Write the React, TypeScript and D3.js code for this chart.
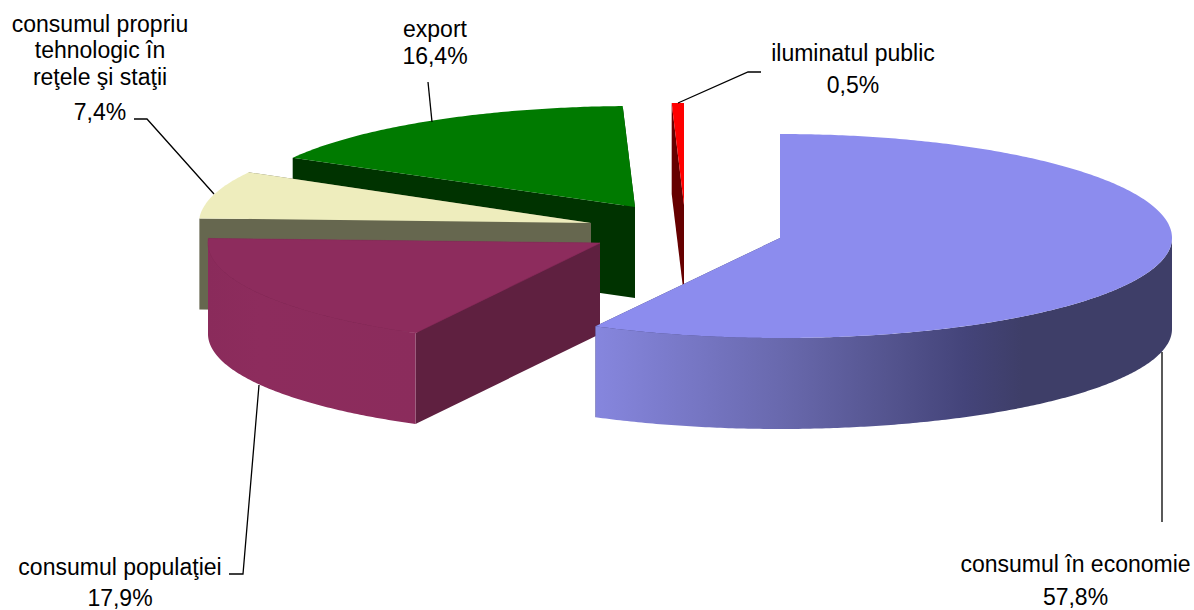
import React from "react";
import * as d3 from "d3";

const categories = ["consumul în economie", "consumul populaţiei", "consumul propriu tehnologic în reţele şi staţii", "export", "iluminatul public"];
const shares = [57.8, 17.9, 7.4, 16.4, 0.5];
const percentLabels = ["57,8%", "17,9%", "7,4%", "16,4%", "0,5%"];

const W = 1194, H = 610;
const RX = 392, DEPTH = 91;
const backRY = [104, 104, 104, 101, 102];
const frontRY = [100, 102, 100, 100, 100];
const apexes: [number, number][] = [[780, 238], [600, 243], [591, 223], [635, 207], [684, 205]];
const topFill = ["#8C8CEE", "#8D2C5D", "#EEEDBD", "#007A00", "#FF0000"];
const cutFill = ["#3E3E68", "#5F2040", "#66674F", "#003300", "#660000"];
const arcFill = ["url(#econWall)", "url(#popWall)", "#66674F", "#003300", "#660000"];
const paintOrder = [4, 3, 2, 1, 0];

type Pt = [number, number];
const pie = d3.pie<number>().sort(null).value((d) => d);
const line = d3.line<Pt>().x((d) => d[0]).y((d) => d[1]);
const rim = (i: number, t: number): Pt => {
  const a = apexes[i];
  const c = Math.cos(t);
  return [a[0] + RX * Math.sin(t), a[1] - (c < 0 ? frontRY[i] : backRY[i]) * c];
};
const down = (p: Pt): Pt => [p[0], p[1] + DEPTH];
const sample = (i: number, t0: number, t1: number): Pt[] => {
  const n = Math.max(2, Math.ceil(Math.abs(t1 - t0) / 0.01));
  return d3.range(n + 1).map((k) => rim(i, t0 + ((t1 - t0) * k) / n));
};

const font = "'Liberation Sans', Arial, sans-serif";
const FS = 23;

type Lab = { lines: string[]; x: number; ys: number[] };
const labels: Lab[] = [
  { lines: ["consumul în economie", percentLabels[0]], x: 1075.5, ys: [572, 605] },
  { lines: ["consumul populaţiei", percentLabels[1]], x: 120, ys: [575, 606] },
  { lines: ["consumul propriu", "tehnologic în", "reţele şi staţii", percentLabels[2]], x: 100, ys: [32, 58, 85, 120] },
  { lines: ["export", percentLabels[3]], x: 435, ys: [37, 64] },
  { lines: ["iluminatul public", percentLabels[4]], x: 853, ys: [61, 93] },
];
const leaders: Pt[][] = [
  [[1162, 352], [1162, 522]],
  [[229, 574], [243, 574], [259, 385]],
  [[134, 119], [147, 119], [214, 194]],
  [[428, 82], [432, 122]],
  [[678, 103], [748, 72], [761, 72]],
];

export default function App() {
  const arcs = pie(shares);
  return (
    <svg width={W} height={H} viewBox={`0 0 ${W} ${H}`} style={{ position: "absolute", left: 0, top: 0, background: "#fff" }}>
      <defs>
        <linearGradient id="econWall" gradientUnits="userSpaceOnUse" x1={596} x2={1172} y1={0} y2={0}>
          <stop offset="0" stopColor="#8686DE" />
          <stop offset="0.33" stopColor="#6868AC" />
          <stop offset="0.5" stopColor="#555590" />
          <stop offset="0.64" stopColor="#44447A" />
          <stop offset="0.74" stopColor="#3E3E68" />
          <stop offset="1" stopColor="#3E3E68" />
        </linearGradient>
        <linearGradient id="popWall" gradientUnits="userSpaceOnUse" x1={208} x2={415} y1={0} y2={0}>
          <stop offset="0" stopColor="#8A2B5B" />
          <stop offset="0.25" stopColor="#8D2C5D" />
          <stop offset="1" stopColor="#8B2C5C" />
        </linearGradient>
      </defs>
      {paintOrder.map((i) => {
        const a = apexes[i];
        const { startAngle: t0, endAngle: t1 } = arcs[i];
        const edge = sample(i, t0, t1);
        const f0 = Math.max(t0, Math.PI / 2);
        const f1 = Math.min(t1, (3 * Math.PI) / 2);
        const front = f1 > f0 ? sample(i, f0, f1) : [];
        const startRim = rim(i, t0);
        const endRim = rim(i, t1);
        const cutStart = [a, startRim, down(startRim), down(a)] as Pt[];
        const cutEnd = [a, endRim, down(endRim), down(a)] as Pt[];
        return (
          <g key={categories[i]}>
            <path d={line(cutEnd) + "Z"} fill={cutFill[i]} />
            <path d={line(cutStart) + "Z"} fill={cutFill[i]} />
            {front.length > 0 && (
              <path d={line([...front, ...front.map(down).reverse()]) + "Z"} fill={arcFill[i]} />
            )}
            <path d={line([a, ...edge]) + "Z"} fill={topFill[i]} stroke={i === 1 ? topFill[i] : "none"} strokeWidth={0.6} />
          </g>
        );
      })}
      {leaders.map((l, i) => (
        <path key={i} d={line(l) as string} fill="none" stroke="#000" strokeWidth={1.3} />
      ))}
      {labels.map((l) =>
        l.lines.map((s, j) => (
          <text key={s} x={l.x} y={l.ys[j]} textAnchor="middle" fontFamily={font} fontSize={FS} fill="#000">
            {s}
          </text>
        ))
      )}
    </svg>
  );
}
